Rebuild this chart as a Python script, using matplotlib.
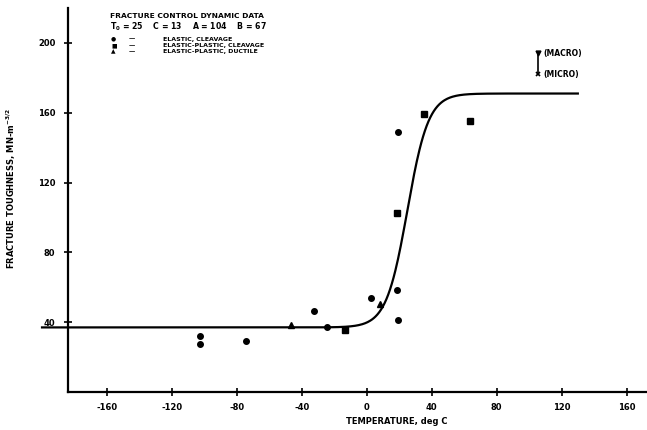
import numpy as np
import matplotlib
matplotlib.use("Agg")
import matplotlib.pyplot as plt

# Tanh fit parameters
T0, C, A, B = 25, 13, 104, 67

# Data points (temperature degC, toughness)
ec_T = [-102.5, -102.5, -74.6, -32.5, -24.2, 2.9, 18.7, 19.3, 19.5]
ec_K = [32.1, 27.4, 29.1, 46.3, 37.3, 53.6, 58.5, 41.1, 149.1]
epc_T = [-13.6, 18.7, 35.3, 63.5]
epc_K = [35.4, 102.7, 159.1, 155.3]
epd_T = [-46.4, 8.0]
epd_K = [38.3, 50.3]

xticks = [-160, -120, -80, -40, 0, 40, 80, 120, 160]
yticks = [40, 80, 120, 160, 200]

plt.rcParams['font.family'] = ['DejaVu Sans']
plt.rcParams['font.weight'] = 'bold'

W, H = 647, 430
fig = plt.figure(figsize=(W/100, H/100), dpi=100)
ax = fig.add_axes([68/W, (H-392)/H, 1 - 68/W, (392-8)/H])
ax.set_xlim(-184, 172.6)
ax.set_ylim(0, 220)

for s in ['top', 'right']:
    ax.spines[s].set_visible(False)
for s in ['left', 'bottom']:
    ax.spines[s].set_linewidth(1.6)

T = np.linspace(-200, 130, 600)
K = A + B*np.tanh((T - T0)/C)
ax.plot(T, K, color='black', lw=1.6, clip_on=False)

ax.plot(ec_T, ec_K, 'o', color='black', ms=4)
ax.plot(epc_T, epc_K, 's', color='black', ms=4)
ax.plot(epd_T, epd_K, '^', color='black', ms=4)

ax.set_xticks(xticks)
ax.set_yticks(yticks)
ax.tick_params(direction='inout', length=6, width=1.2, labelsize=6)
ax.tick_params(axis='x', pad=5)
ax.tick_params(axis='y', pad=6)
ax.set_xticklabels([str(t) for t in xticks], fontweight='bold')
ax.set_yticklabels([str(t) for t in yticks], fontweight='bold')

ax.set_xlabel('TEMPERATURE, deg C', fontsize=6, fontweight='bold')
ax.xaxis.set_label_coords((397-68)/(W-68), -0.065)
ax.set_ylabel('FRACTURE TOUGHNESS, MN-m$^{-3/2}$', fontsize=6, fontweight='bold')
ax.yaxis.set_label_coords(-(68-18)/(W-68), 0.53)

# Header text (figure pixel coords)
def ftxt(x, y, s, size=5.5, **kw):
    fig.text(x/W, 1 - y/H, s, fontsize=size, fontweight='bold', va='center', ha='left', **kw)

ftxt(110, 16, 'FRACTURE CONTROL DYNAMIC DATA', 5.4)
ftxt(110, 27, 'T$_0$ = 25    C = 13    A = 104    B = 67', 5.6)
rows_y = [39, 45.5, 52]
syms = ['●', '■', '▲']
labels = ['ELASTIC, CLEAVAGE', 'ELASTIC-PLASTIC, CLEAVAGE', 'ELASTIC-PLASTIC, DUCTILE']
for yy, sy, lb in zip(rows_y, syms, labels):
    ftxt(111, yy, sy, 4.2)
    ftxt(129, yy, '—', 4.5)
    ftxt(163, yy, lb, 4.5)

# Macro / micro scatter-band indicator
ax.plot([105.4, 105.4], [182, 194], color='black', lw=1.2)
ax.plot([105.4], [194], marker='v', color='black', ms=3.5)
ax.plot([105.4], [182], marker='x', color='black', ms=3.5, mew=1.2)
ax.text(108.5, 194, '(MACRO)', fontsize=5.5, fontweight='bold', va='center')
ax.text(108.5, 182, '(MICRO)', fontsize=5.5, fontweight='bold', va='center')

fig.savefig('out.png', dpi=100)
